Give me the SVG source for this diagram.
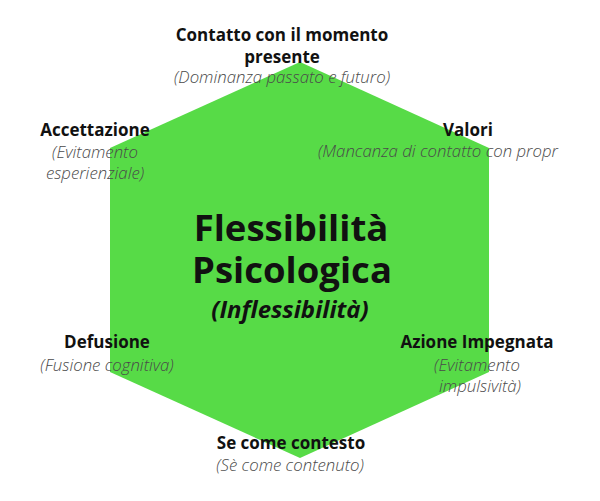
<svg xmlns="http://www.w3.org/2000/svg" width="600" height="501" viewBox="0 0 600 501">
<style>
.t{font-family:"Open Sans","DejaVu Sans",sans-serif;font-weight:700;font-size:17px;fill:#111;text-anchor:middle}
.s{font-family:"Open Sans","DejaVu Sans",sans-serif;font-weight:300;font-style:italic;font-size:16.8px;fill:#4a4a4a;text-anchor:middle}
.c{font-family:"Open Sans","DejaVu Sans",sans-serif;font-weight:700;fill:#111;text-anchor:middle}
</style>
<rect width="600" height="501" fill="#fff"/>
<g id="hexagon">
<polygon points="300,62 489,148 489,372 300,458 110,372 110,148" fill="#57DB47"/>
</g>
<g id="center">
<text class="c" x="291" y="241" font-size="36.5">Flessibilità</text>
<text class="c" x="292" y="283" font-size="36.5">Psicologica</text>
<text class="c" x="290" y="318" font-size="24" font-style="italic">(Inflessibilità)</text>
</g>
<g id="contatto">
<text class="t" x="282" y="41">Contatto con il momento</text>
<text class="t" x="282" y="63">presente</text>
<text class="s" x="282" y="83">(Dominanza passato e futuro)</text>
</g>
<g id="accettazione">
<text class="t" x="95" y="136">Accettazione</text>
<text class="s" x="95" y="158">(Evitamento</text>
<text class="s" x="95" y="179">esperienziale)</text>
</g>
<g id="valori">
<text class="t" x="468" y="136">Valori</text>
<text class="s" x="318" y="157" style="text-anchor:start">(Mancanza di contatto con propr</text>
</g>
<g id="defusione">
<text class="t" x="107" y="348">Defusione</text>
<text class="s" x="107" y="371">(Fusione cognitiva)</text>
</g>
<g id="azione">
<text class="t" x="477" y="348">Azione Impegnata</text>
<text class="s" x="477" y="371">(Evitamento</text>
<text class="s" x="480" y="392">impulsività)</text>
</g>
<g id="se">
<text class="t" x="291" y="449">Se come contesto</text>
<text class="s" x="290" y="471">(Sè come contenuto)</text>
</g>
<g id="connectors"></g>
</svg>
